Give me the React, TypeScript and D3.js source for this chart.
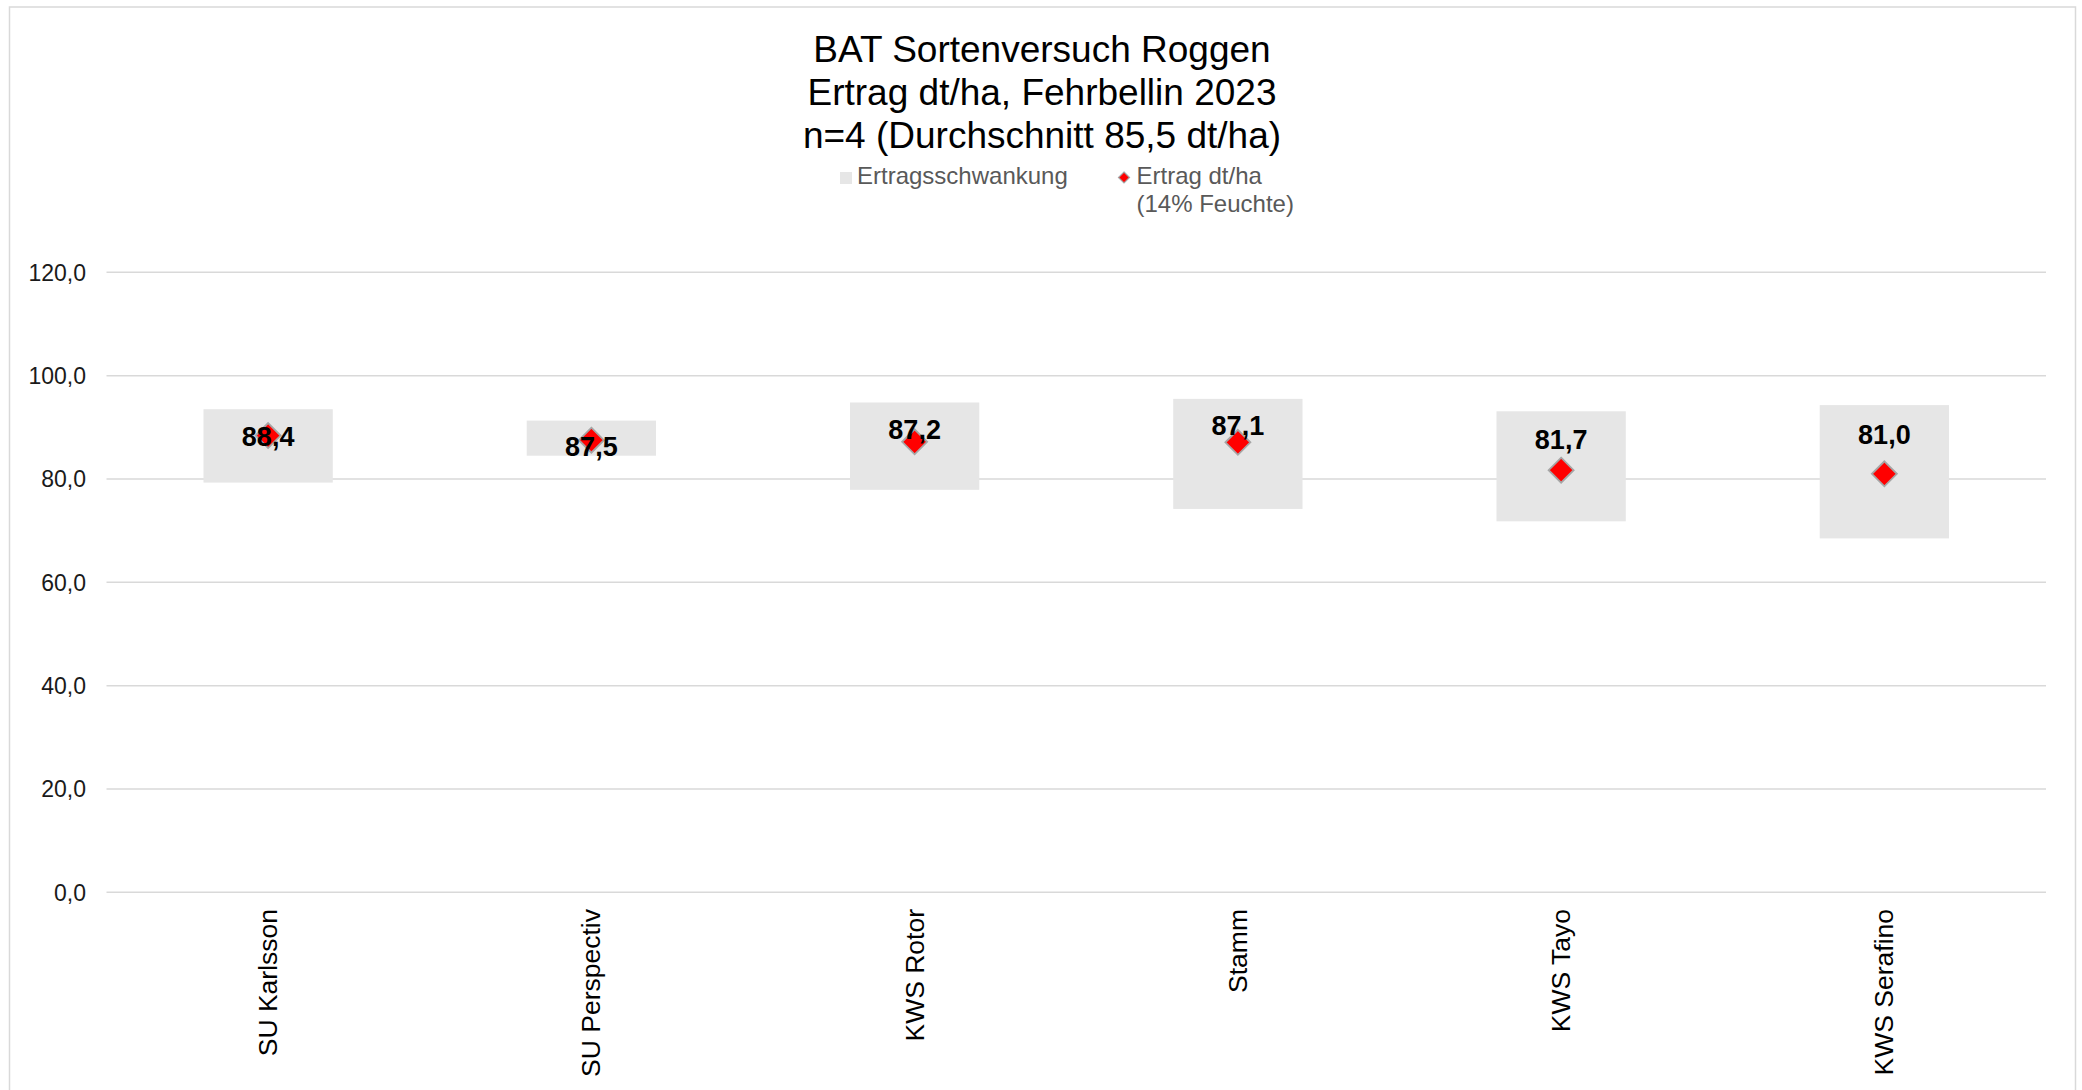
import React from "react";
import * as d3 from "d3";

const categories = ["SU Karlsson", "SU Perspectiv", "KWS Rotor", "Stamm", "KWS Tayo", "KWS Serafino"];
const ertrag = [88.4, 87.5, 87.2, 87.1, 81.7, 81.0];
const rangeMin = [79.3, 84.5, 77.9, 74.2, 71.8, 68.5];
const rangeMax = [93.5, 91.3, 94.8, 95.5, 93.1, 94.3];
const yTicks = [0, 20, 40, 60, 80, 100, 120];
const titleLines = ["BAT Sortenversuch Roggen", "Ertrag dt/ha, Fehrbellin 2023", "n=4 (Durchschnitt 85,5 dt/ha)"];
const legendRange = "Ertragsschwankung";
const legendPoint = ["Ertrag dt/ha", "(14% Feuchte)"];

// manual data-label offsets (layout, px relative to marker centre)
const labelDy = [10, 16, -3, -7, -21, -30];

const W = 2082;
const H = 1090;
const FONT = "'Liberation Sans', Arial, sans-serif";

export default function App() {
  const x = d3
    .scaleBand<string>()
    .domain(categories)
    .range([106.5, 2046])
    .paddingInner(0.6)
    .paddingOuter(0.3);
  const y = d3.scaleLinear().domain([0, 120]).range([892.3, 272.3]);
  const fmt = (v: number) => d3.format(".1f")(v).replace(".", ",");
  const bw = x.bandwidth();
  const cx = (c: string) => (x(c) as number) + bw / 2;
  const gridLeft = 106.5;
  const gridRight = 2046;
  const diamond = (s: number) => `M0,${-s}L${s},0L0,${s}L${-s},0Z`;

  return (
    <svg
      width={W}
      height={H}
      style={{ position: "absolute", left: 0, top: 0, display: "block", background: "#fff" }}
      fontFamily={FONT}
    >
      <rect x={9.5} y={7} width={2066} height={1200} fill="#fff" stroke="#d9d9d9" strokeWidth={1.5} />

      {/* title */}
      {titleLines.map((t, i) => (
        <text key={i} x={1042} y={62 + i * 43} textAnchor="middle" fontSize={37} fill="#000">
          {t}
        </text>
      ))}

      {/* legend */}
      <rect x={840} y={172} width={12} height={12} fill="#e6e6e6" />
      <text x={857} y={184} fontSize={24} fill="#595959">
        {legendRange}
      </text>
      <path d={diamond(5.5)} transform="translate(1124,177.5)" fill="#ff0000" stroke="#a6a6a6" strokeWidth={1.2} />
      <text x={1136.5} y={184} fontSize={24} fill="#595959">
        {legendPoint[0]}
      </text>
      <text x={1136.5} y={211.5} fontSize={24} fill="#595959">
        {legendPoint[1]}
      </text>

      {/* gridlines & y ticks */}
      {yTicks.map((t) => (
        <g key={t}>
          <line x1={gridLeft} x2={gridRight} y1={y(t)} y2={y(t)} stroke="#d9d9d9" strokeWidth={1.5} />
          <text x={86} y={y(t)} dy="0.36em" textAnchor="end" fontSize={23} fill="#1a1a1a">
            {fmt(t)}
          </text>
        </g>
      ))}

      {/* range bars */}
      {categories.map((c, i) => (
        <rect
          key={c}
          x={x(c) as number}
          y={y(rangeMax[i])}
          width={bw}
          height={y(rangeMin[i]) - y(rangeMax[i])}
          fill="#e6e6e6"
        />
      ))}

      {/* markers */}
      {categories.map((c, i) => (
        <path
          key={c}
          d={diamond(12.5)}
          transform={`translate(${cx(c)},${y(ertrag[i])})`}
          fill="#ff0000"
          stroke="#a6a6a6"
          strokeWidth={1.8}
        />
      ))}

      {/* data labels */}
      {categories.map((c, i) => (
        <text
          key={c}
          x={cx(c)}
          y={y(ertrag[i]) + labelDy[i]}
          textAnchor="middle"
          fontSize={27}
          fontWeight="bold"
          fill="#000"
        >
          {fmt(ertrag[i])}
        </text>
      ))}

      {/* category labels */}
      {categories.map((c) => (
        <text
          key={c}
          transform={`translate(${cx(c) + 9},909) rotate(-90)`}
          textAnchor="end"
          fontSize={26.5}
          fill="#000"
        >
          {c}
        </text>
      ))}
    </svg>
  );
}
